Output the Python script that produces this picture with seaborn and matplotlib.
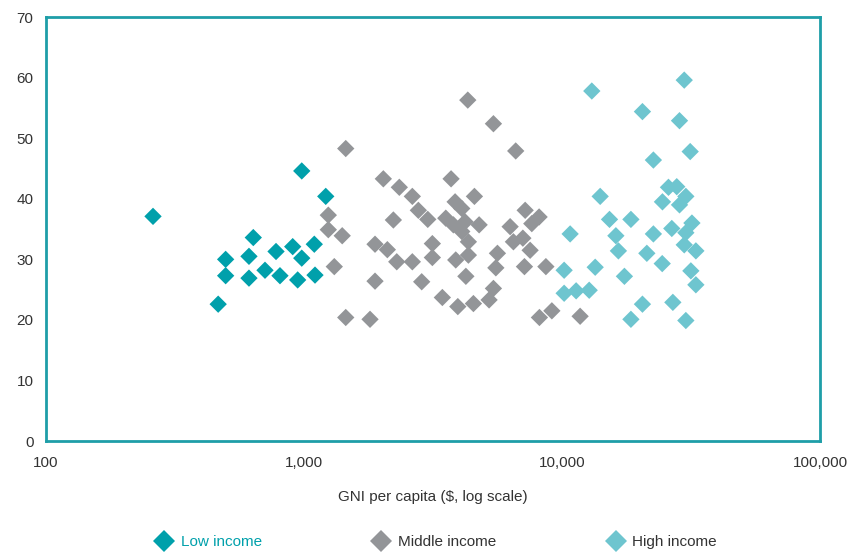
import matplotlib
matplotlib.use("Agg")
import matplotlib.pyplot as plt
from matplotlib.lines import Line2D
from matplotlib.ticker import FixedLocator, NullLocator, FuncFormatter
import seaborn as sns
import pandas as pd

# GNI per capita ($) and indicator value for each country, by income group
low_gni = [260, 465, 497, 497, 636, 612, 612, 706, 779, 807, 904, 945, 980, 980,
           1096, 1103, 1214]
low_val = [37.1, 22.6, 30.0, 27.3, 33.6, 30.5, 26.9, 28.2, 31.3, 27.3, 32.1, 26.6,
           44.6, 30.2, 32.5, 27.4, 40.4]

mid_gni = [4310, 5418, 6609, 1451, 2029, 3713, 2340, 2628, 4573, 3849, 4085, 2773,
           3016, 7191, 8143, 7629, 3542, 3790, 4207, 4769, 4085, 4333, 6288, 6475,
           7045, 7516, 2219, 1242, 1242, 1406, 1884, 2103, 2287, 2628, 3142, 3142,
           3871, 4333, 5615, 5536, 7145, 8651, 1310, 1884, 2857, 4237, 3435, 3943,
           4532, 5212, 5418, 1451, 1802, 8166, 9124, 11740]
mid_val = [56.3, 52.4, 47.9, 48.3, 43.3, 43.3, 41.9, 40.4, 40.4, 39.5, 38.4, 38.1,
           36.6, 38.1, 37.0, 35.9, 36.8, 35.7, 36.2, 35.7, 34.6, 32.9, 35.4, 32.9,
           33.5, 31.5, 36.5, 37.3, 34.9, 33.9, 32.5, 31.6, 29.6, 29.6, 32.6, 30.3,
           29.9, 30.7, 31.0, 28.6, 28.8, 28.8, 28.8, 26.4, 26.3, 27.2, 23.7, 22.2,
           22.7, 23.3, 25.2, 20.4, 20.1, 20.4, 21.5, 20.6]

high_gni = [29720, 13030, 20470, 28490, 31340, 22570, 25820, 27800, 30150, 24470,
            28490, 14040, 15260, 18470, 10740, 16150, 22570, 26600, 31830, 30150,
            29720, 32970, 16520, 21290, 24420, 13430, 10180, 17430, 31530, 32970,
            10180, 11330, 12730, 20470, 26850, 18470, 30150]
high_val = [59.6, 57.8, 54.4, 52.9, 47.8, 46.4, 41.9, 42.0, 40.4, 39.5, 39.0, 40.4,
            36.6, 36.6, 34.2, 33.9, 34.2, 35.1, 36.0, 34.4, 32.4, 31.4, 31.4, 31.0,
            29.3, 28.7, 28.2, 27.2, 28.1, 25.8, 24.4, 24.8, 24.9, 22.6, 22.9, 20.1,
            19.9]

groups = ["Low income", "Middle income", "High income"]
x_ticks = [100, 1000, 10000, 100000]
y_ticks = [0, 10, 20, 30, 40, 50, 60, 70]

palette = {"Low income": "#00A0AB", "Middle income": "#939598", "High income": "#6EC5CF"}
frame_color = "#1E9EA8"
text_color = "#333333"

df = pd.concat([
    pd.DataFrame({"gni": low_gni, "value": low_val, "group": groups[0]}),
    pd.DataFrame({"gni": mid_gni, "value": mid_val, "group": groups[1]}),
    pd.DataFrame({"gni": high_gni, "value": high_val, "group": groups[2]}),
], ignore_index=True)

sns.set_theme(style="white")
plt.rcParams["font.family"] = ["Liberation Sans", "DejaVu Sans"]

fig = plt.figure(figsize=(8.5, 5.53), dpi=100)
ax = fig.add_axes([0.054, 0.2025, 0.911, 0.7665])

sns.scatterplot(data=df, x="gni", y="value", hue="group", palette=palette,
                hue_order=groups, marker="D", s=78, linewidth=0, legend=False, ax=ax,
                zorder=3)

ax.set_xscale("log")
ax.set_xlim(100, 100000)
ax.set_ylim(0, 70)
ax.xaxis.set_major_locator(FixedLocator(x_ticks))
ax.xaxis.set_minor_locator(NullLocator())
ax.xaxis.set_major_formatter(FuncFormatter(lambda v, p: f"{int(round(v)):,}"))
ax.set_yticks(y_ticks)

ax.tick_params(axis="both", length=0, labelsize=11, labelcolor=text_color)
ax.tick_params(axis="x", pad=11)
ax.tick_params(axis="y", pad=9)

for side in ax.spines.values():
    side.set_visible(True)
    side.set_color(frame_color)
    side.set_linewidth(2)

ax.set_xlabel("GNI per capita ($, log scale)", fontsize=11, color=text_color, labelpad=14)
ax.set_ylabel("")

handles = [Line2D([0], [0], marker="D", linestyle="", markersize=11,
                  markerfacecolor=palette[g], markeredgewidth=0) for g in groups]
leg = fig.legend(handles, groups, loc="center", bbox_to_anchor=(0.513, 0.02), ncol=3,
                 frameon=False, fontsize=11, columnspacing=7.2, handletextpad=0.5,
                 handlelength=1.2)
for t, g in zip(leg.get_texts(), groups):
    t.set_color(palette[g] if g == "Low income" else text_color)

fig.savefig("out.png", dpi=100)
